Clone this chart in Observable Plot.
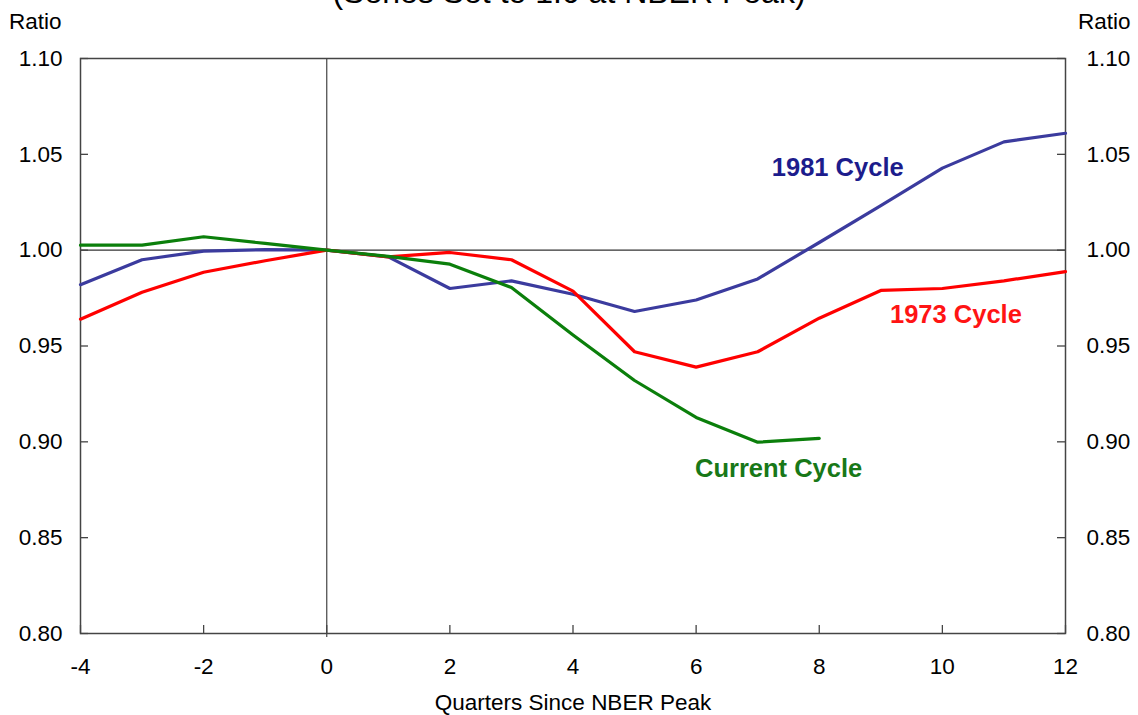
<!DOCTYPE html>
<html>
<head>
<meta charset="utf-8">
<script src="https://cdn.jsdelivr.net/npm/d3@7"></script>
<script src="https://cdn.jsdelivr.net/npm/@observablehq/plot@0.6"></script>
<style>
  html, body { margin: 0; padding: 0; background: #fff; }
  #wrap { position: relative; width: 1138px; height: 715px; overflow: hidden; font-family: "Liberation Sans", Arial, sans-serif; }
  #title { position: absolute; left: 0; width: 1138px; top: -24px; text-align: center; font-size: 32px; line-height: 32px; color: #000; white-space: nowrap; }
  #chart { position: absolute; left: 0; top: 0; }
</style>
</head>
<body>
<div id="wrap">
  <div id="chart"></div>
  <div id="title">(Series Set to 1.0 at NBER Peak)</div>
</div>
<script>
// Quarters since NBER peak
const quarters = [-4, -3, -2, -1, 0, 1, 2, 3, 4, 5, 6, 7, 8, 9, 10, 11, 12];
const cycle1981 = [0.982, 0.995, 0.9995, 1.0003, 1.000, 0.9965, 0.980, 0.984, 0.977, 0.968, 0.974, 0.985, 1.004, 1.0232, 1.0428, 1.0565, 1.061];
const cycle1973 = [0.964, 0.978, 0.9885, 0.9945, 1.000, 0.9965, 0.9988, 0.995, 0.9786, 0.947, 0.939, 0.947, 0.9645, 0.979, 0.980, 0.984, 0.9888];
const currentQuarters = [-4, -3, -2, -1, 0, 1, 2, 3, 4, 5, 6, 7, 8];
const currentCycle = [1.0026, 1.0026, 1.007, 1.0035, 1.000, 0.9968, 0.9927, 0.9805, 0.9557, 0.932, 0.9127, 0.8998, 0.9018];

const xTicks = [-4, -2, 0, 2, 4, 6, 8, 10, 12];
const yTicks = [0.80, 0.85, 0.90, 0.95, 1.00, 1.05, 1.10];

const seriesNames = ["1981 Cycle", "1973 Cycle", "Current Cycle"];
const lineColors = ["#3b3b9e", "#ff0000", "#0b7f0b"];
const labelColors = ["#1c1c8c", "#ff1414", "#187818"];
const labelX = [8.30, 10.22, 7.34];
const labelY = [1.0428, 0.9661, 0.8858];

const rows = [];
quarters.forEach((q, i) => rows.push({series: seriesNames[0], q, v: cycle1981[i]}));
quarters.forEach((q, i) => rows.push({series: seriesNames[1], q, v: cycle1973[i]}));
currentQuarters.forEach((q, i) => rows.push({series: seriesNames[2], q, v: currentCycle[i]}));
const labels = seriesNames.map((s, i) => ({series: s, x: labelX[i], y: labelY[i]}));

const W = 1138, H = 715;
const mT = 58, mR = 73, mB = 82, mL = 80;
const plotW = W - mL - mR, plotH = H - mT - mB;
const tickLen = 8;
const fontSz = 22.5;

const chart = Plot.plot({
  width: W,
  height: H,
  marginTop: mT,
  marginRight: mR,
  marginBottom: mB,
  marginLeft: mL,
  style: {fontFamily: '"Liberation Sans", Arial, sans-serif', fontSize: fontSz + "px", color: "#000", background: "#fff", overflow: "visible"},
  x: {domain: [-4, 12], ticks: xTicks},
  y: {domain: [0.80, 1.10], ticks: yTicks},
  color: {domain: seriesNames, range: lineColors},
  marks: [
    Plot.ruleY([1.0], {stroke: "#333", strokeWidth: 1.2}),
    Plot.ruleX([0], {stroke: "#444", strokeWidth: 1.2, insetBottom: -4}),
    Plot.tickY(yTicks, {y: d => d, stroke: "#444", strokeWidth: 1.3, insetRight: plotW - tickLen}),
    Plot.tickY(yTicks, {y: d => d, stroke: "#444", strokeWidth: 1.3, insetLeft: plotW - tickLen}),
    Plot.tickX(xTicks, {x: d => d, stroke: "#444", strokeWidth: 1.3, insetTop: plotH - tickLen}),
    Plot.frame({stroke: "#444", strokeWidth: 1.5}),
    Plot.line(rows, {x: "q", y: "v", z: "series", stroke: "series", strokeWidth: 3.2, strokeLinejoin: "round"}),
    Plot.text(labels, {x: "x", y: "y", text: "series", fill: (d, i) => labelColors[i], fontWeight: "bold", fontSize: 25.5}),
    Plot.axisY({anchor: "left", ticks: yTicks, tickSize: 0, tickPadding: 18, tickFormat: d3.format(".2f"), label: null, fontSize: fontSz}),
    Plot.axisY({anchor: "right", ticks: yTicks, tickSize: 0, tickPadding: 21, tickFormat: d3.format(".2f"), label: null, fontSize: fontSz}),
    Plot.axisX({anchor: "bottom", ticks: xTicks, tickSize: 0, tickPadding: 25, tickFormat: d => String(d), label: null, fontSize: fontSz}),
    Plot.text(["Ratio"], {frameAnchor: "top-left", text: d => d, textAnchor: "end", lineAnchor: "middle", dx: -19, dy: -37, fontSize: fontSz}),
    Plot.text(["Ratio"], {frameAnchor: "top-right", text: d => d, textAnchor: "end", lineAnchor: "middle", dx: 65, dy: -37, fontSize: fontSz}),
    Plot.text(["Quarters Since NBER Peak"], {frameAnchor: "bottom", text: d => d, lineAnchor: "middle", dy: 69, fontSize: fontSz})
  ]
});
document.getElementById("chart").appendChild(chart);
</script>
</body>
</html>
